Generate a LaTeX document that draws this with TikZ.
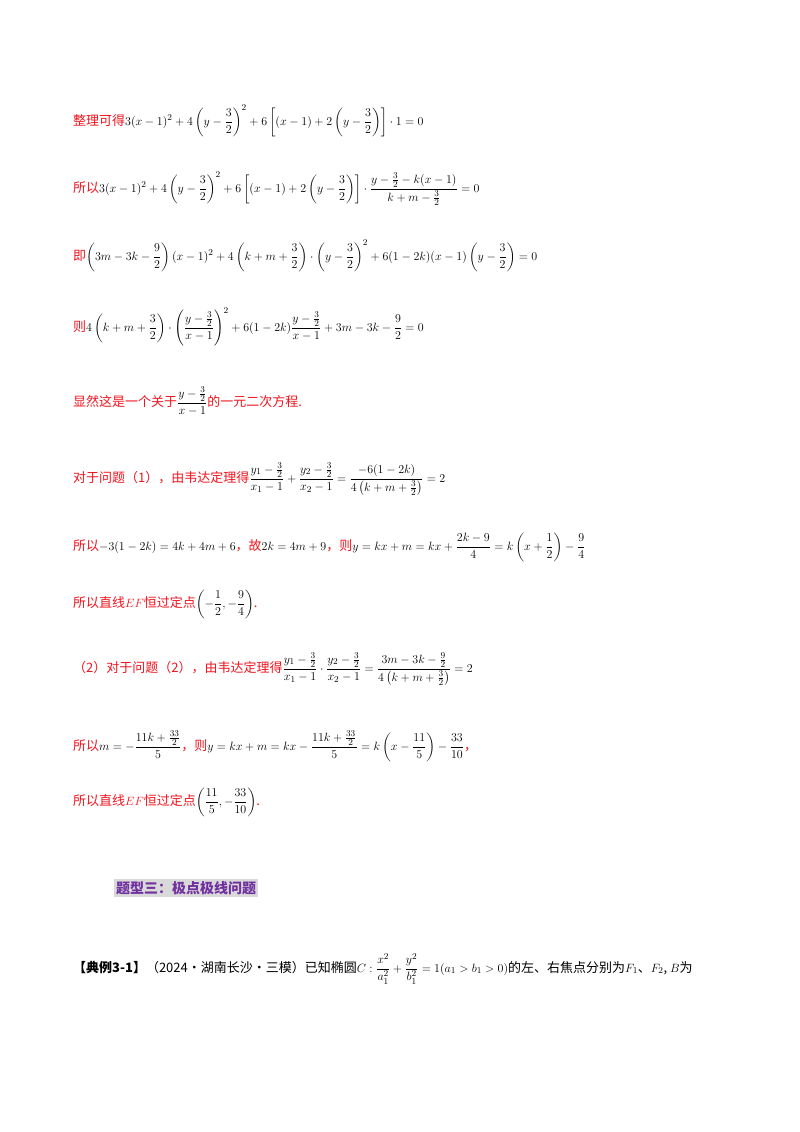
\documentclass[tikz,border=0pt]{standalone}
\usepackage{amsmath}
\usepackage{fontspec}
\setmainfont{Noto Sans CJK SC}
\definecolor{rd}{RGB}{240,20,30}
\definecolor{pu}{RGB}{112,48,160}
\begin{document}
\begin{tikzpicture}[x=1pt,y=-1pt,
  ln/.style={anchor=base west,inner sep=0pt,font=\fontsize{13}{15}\selectfont,text=rd},
  bl/.style={ln,text=black}]
\useasboundingbox (0,0) rectangle (800,1132);
\node[ln] (l1) at (73,125) {整理可得$\color{black}\displaystyle 3(x-1)^2+4\left(y-\frac32\right)^2+6\left[(x-1)+2\left(y-\frac32\right)\right]\cdot1=0$};
\node[ln] (l2) at (73,192) {所以$\color{black}\displaystyle 3(x-1)^2+4\left(y-\frac32\right)^2+6\left[(x-1)+2\left(y-\frac32\right)\right]\cdot\frac{y-\frac32-k(x-1)}{k+m-\frac32}=0$};
\node[ln] (l3) at (73,260) {即$\color{black}\displaystyle \left(3m-3k-\frac92\right)(x-1)^2+4\left(k+m+\frac32\right)\cdot\left(y-\frac32\right)^2+6(1-2k)(x-1)\left(y-\frac32\right)=0$};
\node[ln] (l4) at (73,331) {则$\color{black}\displaystyle 4\left(k+m+\frac32\right)\cdot\left(\frac{y-\frac32}{x-1}\right)^2+6(1-2k)\frac{y-\frac32}{x-1}+3m-3k-\frac92=0$};
\node[ln] (l5) at (73,406) {显然这是一个关于$\color{black}\displaystyle\frac{y-\frac32}{x-1}$的一元二次方程.};
\node[ln] (l6) at (73,482) {对于问题（1），由韦达定理得$\color{black}\displaystyle\frac{y_1-\frac32}{x_1-1}+\frac{y_2-\frac32}{x_2-1}=\frac{-6(1-2k)}{4\left(k+m+\frac32\right)}=2$};
\node[ln] (l7) at (73,550) {所以$\color{black}-3(1-2k)=4k+4m+6$，故$\color{black}2k=4m+9$，则$\color{black}\displaystyle y=kx+m=kx+\frac{2k-9}{4}=k\left(x+\frac12\right)-\frac94$};
\node[ln] (l8) at (73,607) {所以直线$EF$恒过定点$\color{black}\displaystyle\left(-\frac12,-\frac94\right)$.};
\node[ln] (l9) at (73,672) {（2）对于问题（2），由韦达定理得$\color{black}\displaystyle\frac{y_1-\frac32}{x_1-1}\cdot\frac{y_2-\frac32}{x_2-1}=\frac{3m-3k-\frac92}{4\left(k+m+\frac32\right)}=2$};
\node[ln] (l10) at (73,750) {所以$\color{black}\displaystyle m=-\frac{11k+\frac{33}2}{5}$，则$\color{black}\displaystyle y=kx+m=kx-\frac{11k+\frac{33}2}{5}=k\left(x-\frac{11}5\right)-\frac{33}{10}$，};
\node[ln] (l11) at (73,805) {所以直线$EF$恒过定点$\color{black}\displaystyle\left(\frac{11}5,-\frac{33}{10}\right)$.};
\node[anchor=west,fill=black!15,inner sep=2pt,text=pu,font=\fontsize{14}{16}\selectfont\bfseries] (h) at (114,888) {题型三：极点极线问题};
\node[bl] (l12) at (73,972) {\textbf{【典例3-1】}（2024·湖南长沙·三模）已知椭圆$\displaystyle C:\frac{x^2}{a_1^2}+\frac{y^2}{b_1^2}=1(a_1>b_1>0)$的左、右焦点分别为$F_1$、$F_2$, $B$为};
\end{tikzpicture}
\end{document}
